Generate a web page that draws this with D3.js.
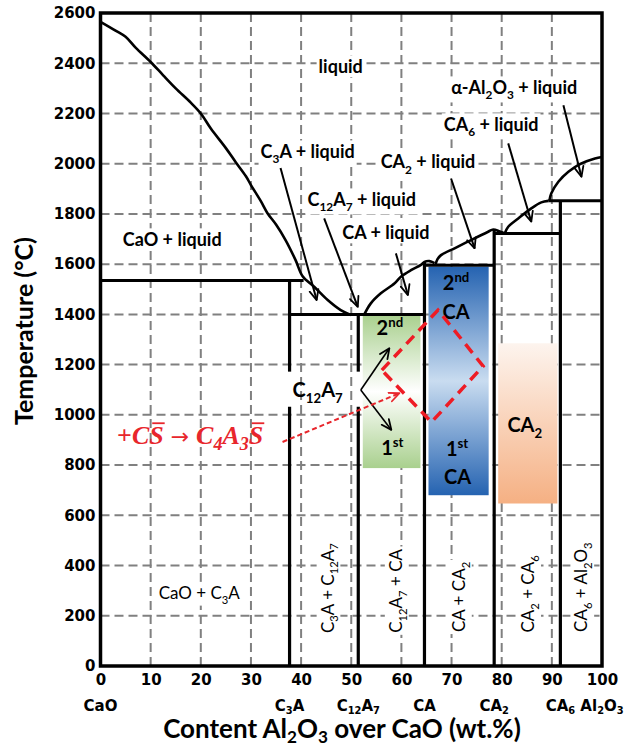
<!DOCTYPE html>
<html>
<head>
<meta charset="utf-8">
<script src="https://cdn.jsdelivr.net/npm/d3@7"></script>
<style>
  html, body { margin: 0; padding: 0; background: #fff; }
  svg { display: block; }
</style>
</head>
<body>
<svg id="chart" width="626" height="749"></svg>
<script>
// ---- Axis ticks ----
const xTicks = [0, 10, 20, 30, 40, 50, 60, 70, 80, 90, 100];
const yTicks = [0, 200, 400, 600, 800, 1000, 1200, 1400, 1600, 1800, 2000, 2200, 2400, 2600];
const xGrid = [10, 20, 30, 40, 50, 60, 70, 80, 90];
const yGrid = [200, 400, 600, 800, 1000, 1200, 1400, 1600, 1800, 2000, 2200, 2400];

// ---- Compounds on the composition axis (wt.% Al2O3) ----
const compoundNames = ["CaO", "C_{3}A", "C_{12}A_{7}", "CA", "CA_{2}", "CA_{6}", "Al_{2}O_{3}"];
const compoundX = [0, 37.7, 51.4, 64.6, 78.5, 91.7, 100];

// ---- Liquidus curves [wt.%, °C] ----
const liquidusCaO = [[0, 2565], [3, 2530], [5, 2505], [7, 2462], [10, 2405], [12.5, 2352], [15, 2300], [18, 2243],
  [20, 2200], [22, 2140], [25, 2062], [27, 2005], [29, 1950], [30, 1915], [32, 1850], [33.3, 1803], [35, 1758],
  [36.9, 1696], [38.9, 1616], [40.3, 1552], [42.6, 1510], [45.3, 1457], [47.9, 1417], [50, 1397]];
const liquidusCA = [[52.6, 1400], [53.9, 1444], [55.9, 1484], [58.6, 1523], [59.9, 1550], [61.9, 1576],
  [63.9, 1597], [64.6, 1609], [65.6, 1612], [66.6, 1604]];
const liquidusCA2 = [[66.8, 1598], [67.2, 1620], [67.9, 1636], [70.6, 1663], [73.9, 1696], [77.3, 1729],
  [78.3, 1738], [79.6, 1730], [80.6, 1722]];
const liquidusCA6 = [[80.6, 1722], [81.3, 1749], [83.3, 1782], [85.9, 1822], [87.9, 1846], [89.3, 1852]];
const liquidusAl2O3 = [[89.5, 1852], [89.9, 1882], [91.3, 1928], [93.3, 1968], [95.9, 2001], [98.6, 2021], [100, 2027]];
const liquidusCurves = [liquidusCaO, liquidusCA, liquidusCA2, liquidusCA6, liquidusAl2O3];

// ---- Invariant (horizontal) lines: temperature, from, to ----
const invariantT = [1535, 1400, 1596, 1722, 1852];
const invariantFrom = [0, 37.7, 64.6, 78.5, 89.3];
const invariantTo = [40.5, 64.6, 78.5, 91.7, 100];

// ---- Compound (vertical) lines: composition, top, bottom ----
const compoundLineX = [37.7, 37.7, 51.4, 51.4, 64.6, 78.5, 91.7];
const compoundLineTop = [1535, 1032, 1400, 1032, 1609, 1738, 1852];
const compoundLineBottom = [1172, 0, 1172, 0, 0, 0, 0];

// ---- Hydrate/phase formation windows ----
const windowX0 = [52.3, 65.4, 79.3];
const windowX1 = [63.8, 77.4, 91.1];
const windowTLow = [788, 680, 647];
const windowTHigh = [1397, 1590, 1285];
const windowFill = ["gradGreen", "gradBlue", "gradOrange"];

// ---- Field labels in the liquid region ----
const upperLabels = ["liquid", "α-Al_{2}O_{3} + liquid", "CA_{6} + liquid", "CA_{2} + liquid",
  "C_{12}A_{7} + liquid", "CA + liquid", "C_{3}A + liquid", "CaO + liquid"];
const upperLabelX = [47.9, 82.5, 77.9, 65.3, 52.1, 56.9, 41.3, 14.3];
const upperLabelT = [2385, 2301, 2154, 2006, 1855, 1724, 2046, 1696];

// ---- Arrows from field labels to their fields ----
const arrowFrom = [[35.9, 1983], [44.6, 1782], [58.9, 1643], [69.9, 1941], [81.3, 2081], [92.3, 2233]];
const arrowTo = [[43.1, 1457], [51.3, 1430], [61.3, 1477], [74.6, 1663], [85.9, 1769], [95.9, 1948]];

// ---- Sub-solidus field labels ----
const lowerLabels = ["C_{3}A + C_{12}A_{7}", "C_{12}A_{7} + CA", "CA + CA_{2}", "CA_{2} + CA_{6}", "CA_{6} + Al_{2}O_{3}"];
const lowerLabelX = [45.3, 58.9, 71.5, 85.3, 95.9];
const lowerLabelT = [310, 299, 275, 287, 314];
const baseLabel = "CaO + C_{3}A";
const baseLabelPos = [19.7, 291];

// ---- Labels inside the formation windows ----
const windowLabels = ["2^{nd}", "1^{st}", "2^{nd}", "CA", "1^{st}", "CA", "CA_{2}"];
const windowLabelX = [57.7, 58.2, 70.9, 70.9, 71.1, 71.2, 84.6];
const windowLabelT = [1345, 868, 1525, 1409, 864, 752, 960];

// ---- C12A7 pathway ----
const c12a7Label = "C_{12}A_{7}";
const c12a7Pos = [43.3, 1099];
const c12a7Arrows = [[[51.9, 1099], [57.6, 1265]], [[51.9, 1099], [58.0, 940]]];

// ---- Sulphate reaction path ----
const reactionPath = [[56.1, 1178], [67.3, 1417], [76.3, 1194], [66.0, 971]];
const reactionArrow = [[36.3, 892], [59.6, 1086]];
const reactionTextPos = [3.3, 883];

// ---- Scales ----
const svg = d3.select("#chart");
const x = d3.scaleLinear().domain([0, 100]).range([100.5, 602]);
const y = d3.scaleLinear().domain([0, 2600]).range([666, 13]);

const UI = "Lato, 'Open Sans', sans-serif";
const TICK = "'DejaVu Sans', sans-serif";

// ---- Rich text helper: _{sub} and ^{sup} ----
function rich(textSel, str, size, subShift) {
  const re = /([_^])\{([^}]*)\}|([^_^]+)/g;
  const down = subShift === undefined ? 0.28 : subShift;
  let m, shift = 0;
  while ((m = re.exec(str))) {
    if (m[3] !== undefined) {
      const ts = textSel.append("tspan").text(m[3]);
      if (shift) { ts.attr("dy", -shift); shift = 0; }
    } else {
      const s = m[1] === "_" ? size * down : -size * 0.42;
      textSel.append("tspan").text(m[2]).attr("font-size", size * 0.66).attr("dy", s - shift);
      shift = s;
    }
  }
  return textSel;
}

function label(parent, str, px, py, opts) {
  const g = parent.append("g").attr("transform", `translate(${px},${py})` + (opts.rotate ? " rotate(-90)" : ""));
  const bg = opts.bg ? g.append("rect").attr("fill", "#fff") : null;
  const t = g.append("text")
    .attr("text-anchor", "middle")
    .attr("y", opts.size * 0.35)
    .attr("font-family", opts.family || UI)
    .attr("font-size", opts.size)
    .attr("font-weight", opts.weight || "bold")
    .attr("fill", opts.fill || "#000");
  rich(t, str, opts.size);
  if (bg) {
    const b = t.node().getBBox();
    const p = opts.pad === undefined ? 2 : opts.pad;
    bg.attr("x", b.x - p).attr("y", b.y).attr("width", b.width + 2 * p).attr("height", b.height);
  }
  return g;
}

// ---- Gradients ----
const defs = svg.append("defs");
function vGrad(id, stops) {
  const g = defs.append("linearGradient").attr("id", id).attr("x1", 0).attr("y1", 0).attr("x2", 0).attr("y2", 1);
  stops.forEach(([o, c]) => g.append("stop").attr("offset", o).attr("stop-color", c));
}
vGrad("gradGreen", [[0, "#a9d08e"], [0.5, "#ffffff"], [1, "#a9d08e"]]);
vGrad("gradBlue", [[0, "#2563b1"], [0.5, "#c9dcf0"], [1, "#2563b1"]]);
vGrad("gradOrange", [[0, "#fdf4ee"], [1, "#f5b083"]]);

function marker(id, color, w) {
  defs.append("marker").attr("id", id)
    .attr("viewBox", "0 0 12 12").attr("refX", 11).attr("refY", 6)
    .attr("markerWidth", 12).attr("markerHeight", 12).attr("markerUnits", "userSpaceOnUse")
    .attr("orient", "auto")
    .append("path").attr("d", "M1,1.5 L11,6 L1,10.5")
    .attr("fill", "none").attr("stroke", color).attr("stroke-width", w)
    .attr("stroke-linecap", "round").attr("stroke-linejoin", "round");
}
marker("arrowBlack", "#000", 1.8);
marker("arrowRed", "#e8262c", 1.8);

// ---- Grid ----
const grid = svg.append("g").attr("stroke", "#808080").attr("stroke-width", 2).attr("stroke-dasharray", "9,5");
grid.selectAll("line.v").data(xGrid).join("line").attr("class", "v")
  .attr("x1", d => x(d)).attr("x2", d => x(d)).attr("y1", y(0)).attr("y2", y(2600));
grid.selectAll("line.h").data(yGrid).join("line").attr("class", "h")
  .attr("y1", d => y(d)).attr("y2", d => y(d)).attr("x1", x(0)).attr("x2", x(100));

// ---- Formation windows ----
svg.append("g").selectAll("rect").data(windowX0).join("rect")
  .attr("x", (d, i) => x(d))
  .attr("width", (d, i) => x(windowX1[i]) - x(d))
  .attr("y", (d, i) => y(windowTHigh[i]))
  .attr("height", (d, i) => y(windowTLow[i]) - y(windowTHigh[i]))
  .attr("fill", (d, i) => `url(#${windowFill[i]})`);

// ---- Phase boundaries ----
const phase = svg.append("g").attr("stroke", "#000").attr("fill", "none");
phase.selectAll("line.inv").data(invariantT).join("line").attr("class", "inv")
  .attr("stroke-width", 3)
  .attr("x1", (d, i) => x(invariantFrom[i])).attr("x2", (d, i) => x(invariantTo[i]))
  .attr("y1", d => y(d)).attr("y2", d => y(d));
phase.selectAll("line.cmp").data(compoundLineX).join("line").attr("class", "cmp")
  .attr("stroke-width", 3.2)
  .attr("x1", d => x(d)).attr("x2", d => x(d))
  .attr("y1", (d, i) => y(compoundLineTop[i])).attr("y2", (d, i) => y(compoundLineBottom[i]));
const liqLine = d3.line().x(d => x(d[0])).y(d => y(d[1])).curve(d3.curveCatmullRom.alpha(0.5));
phase.selectAll("path.liq").data(liquidusCurves).join("path").attr("class", "liq")
  .attr("stroke-width", 2.6).attr("stroke-linejoin", "round").attr("d", liqLine);

// ---- Frame ----
svg.append("rect")
  .attr("x", x(0)).attr("y", y(2600))
  .attr("width", x(100) - x(0)).attr("height", y(0) - y(2600))
  .attr("fill", "none").attr("stroke", "#000").attr("stroke-width", 3.5);

// ---- Region labels ----
const labels = svg.append("g");
upperLabels.forEach((s, i) => label(labels, s, x(upperLabelX[i]), y(upperLabelT[i]), { size: 18, bg: true }));
lowerLabels.forEach((s, i) => label(labels, s, x(lowerLabelX[i]), y(lowerLabelT[i]), { size: 17, weight: "normal", rotate: true, bg: true }));
label(labels, baseLabel, x(baseLabelPos[0]), y(baseLabelPos[1]), { size: 17, weight: "normal", bg: true });
windowLabels.forEach((s, i) => label(labels, s, x(windowLabelX[i]), y(windowLabelT[i]), { size: 20 }));
label(labels, c12a7Label, x(c12a7Pos[0]), y(c12a7Pos[1]), { size: 20 });

// ---- Arrows ----
const arrows = svg.append("g").attr("stroke", "#000").attr("stroke-width", 2).attr("fill", "none");
arrows.selectAll("line.a").data(arrowFrom).join("line").attr("class", "a")
  .attr("x1", d => x(d[0])).attr("y1", d => y(d[1]))
  .attr("x2", (d, i) => x(arrowTo[i][0])).attr("y2", (d, i) => y(arrowTo[i][1]))
  .attr("marker-end", "url(#arrowBlack)");
arrows.selectAll("line.c").data(c12a7Arrows).join("line").attr("class", "c")
  .attr("stroke-width", 1.6)
  .attr("x1", d => x(d[0][0])).attr("y1", d => y(d[0][1]))
  .attr("x2", d => x(d[1][0])).attr("y2", d => y(d[1][1]))
  .attr("marker-end", "url(#arrowBlack)");

// ---- Sulphate reaction path ----
svg.append("path")
  .datum(reactionPath)
  .attr("d", d3.line().x(d => x(d[0])).y(d => y(d[1])).curve(d3.curveLinearClosed))
  .attr("fill", "none").attr("stroke", "#ee1c25").attr("stroke-width", 3.5)
  .attr("stroke-dasharray", "11,7");
svg.append("line")
  .attr("x1", x(reactionArrow[0][0])).attr("y1", y(reactionArrow[0][1]))
  .attr("x2", x(reactionArrow[1][0])).attr("y2", y(reactionArrow[1][1]))
  .attr("stroke", "#e8262c").attr("stroke-width", 2).attr("stroke-dasharray", "5,3")
  .attr("marker-end", "url(#arrowRed)");

// Reaction equation: +CS̄ → C4A3S̄
const eq = svg.append("text")
  .attr("x", x(reactionTextPos[0])).attr("y", y(reactionTextPos[1]))
  .attr("font-family", "'Liberation Serif', 'DejaVu Serif', serif")
  .attr("font-size", 26).attr("font-style", "italic").attr("font-weight", "bold")
  .attr("fill", "#e8262c");
eq.append("tspan").text("+").attr("font-style", "normal");
eq.append("tspan").text("C");
const s1 = eq.append("tspan").text("S");
eq.append("tspan").text(" → ").attr("font-style", "normal").attr("font-weight", "normal")
  .attr("font-family", "'DejaVu Sans', sans-serif").attr("font-size", 22);
eq.append("tspan").text("C");
eq.append("tspan").text("4").attr("font-size", 18).attr("dy", 6);
eq.append("tspan").text("A").attr("dy", -6);
eq.append("tspan").text("3").attr("font-size", 18).attr("dy", 6);
const s2 = eq.append("tspan").text("S").attr("dy", -6);
[s1, s2].forEach(s => {
  const b = s.node().getBBox();
  svg.append("line")
    .attr("x1", b.x + 3).attr("x2", b.x + b.width + 1)
    .attr("y1", b.y + 2).attr("y2", b.y + 2)
    .attr("stroke", "#e8262c").attr("stroke-width", 1.8);
});

// ---- Axes ----
const yAxis = svg.append("g").attr("transform", `translate(${x(0)},0)`)
  .call(d3.axisLeft(y).tickValues(yTicks).tickSize(0).tickPadding(5).tickFormat(d3.format("d")));
const xAxis = svg.append("g").attr("transform", `translate(0,${y(0)})`)
  .call(d3.axisBottom(x).tickValues(xTicks).tickSize(0).tickPadding(8).tickFormat(d3.format("d")));
[yAxis, xAxis].forEach(a => {
  a.select(".domain").remove();
  a.selectAll("text").attr("font-family", TICK).attr("font-size", 15).attr("font-weight", "bold").attr("fill", "#000");
});

// Compound names under the composition axis
const comp = svg.append("g");
compoundNames.forEach((s, i) => {
  const t = comp.append("text")
    .attr("x", x(compoundX[i])).attr("y", 711)
    .attr("text-anchor", "middle")
    .attr("font-family", TICK).attr("font-size", 15).attr("font-weight", "bold");
  rich(t, s, 15, 0.22);
});

// ---- Axis titles ----
const xt = svg.append("text")
  .attr("x", 342).attr("y", 738).attr("text-anchor", "middle")
  .attr("font-family", UI).attr("font-size", 26).attr("font-weight", "bold");
rich(xt, "Content Al_{2}O_{3} over CaO (wt.%)", 26, 0.2);
svg.append("text")
  .attr("transform", "translate(33,331) rotate(-90)")
  .attr("text-anchor", "middle")
  .attr("font-family", UI).attr("font-size", 25).attr("font-weight", "bold")
  .text("Temperature (°C)");
</script>
</body>
</html>
